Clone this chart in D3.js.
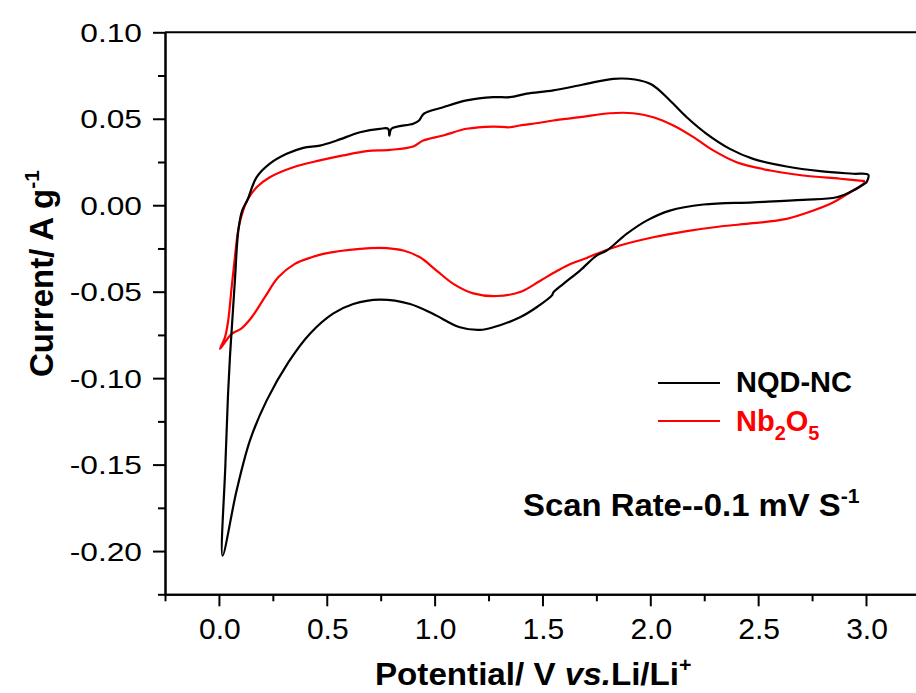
<!DOCTYPE html>
<html>
<head>
<meta charset="utf-8">
<script src="https://cdn.jsdelivr.net/npm/d3@7"></script>
<style>
  html, body { margin: 0; padding: 0; background: #fff; }
  svg { display: block; font-family: "Liberation Sans", Arial, sans-serif; }
</style>
</head>
<body>
<svg id="chart" width="916" height="693"></svg>
<script>
// ---------- data ----------
// NQD-NC loop: cathodic scan 3.0 V -> 0.02 V, then anodic scan back to 3.0 V
const nqdPotential = [
  3.003, 2.941, 2.864, 2.709, 2.477, 2.246, 2.091, 1.983, 1.890, 1.798, 1.751, 1.674, 1.597,
  1.550, 1.545, 1.473, 1.396, 1.272, 1.210, 1.117, 0.994, 0.886, 0.746, 0.623, 0.529, 0.422,
  0.321, 0.221, 0.144, 0.082, 0.017,
  0.030, 0.042, 0.051, 0.059, 0.074, 0.090, 0.108, 0.131, 0.175, 0.236, 0.314, 0.391, 0.468,
  0.546, 0.654, 0.746, 0.785, 0.790, 0.800, 0.901, 0.928, 0.950, 1.040, 1.148, 1.272, 1.349,
  1.427, 1.550, 1.689, 1.828, 1.929, 2.006, 2.091, 2.169, 2.261, 2.369, 2.477, 2.632, 2.787,
  2.941, 3.011, 3.003
];
const nqdCurrent = [
  0.0133, 0.0085, 0.0046, 0.0031, 0.0017, 0.0004, -0.0031, -0.0089, -0.0166, -0.0262, -0.0291, -0.0378, -0.0455,
  -0.0505, -0.0520, -0.0590, -0.0648, -0.0706, -0.0721, -0.0706, -0.0629, -0.0571, -0.0546, -0.0571, -0.0627, -0.0743,
  -0.0910, -0.1130, -0.1360, -0.1650, -0.2027,
  -0.1500, -0.1100, -0.0880, -0.0725, -0.0436, -0.0146, -0.0030, 0.0027, 0.0162, 0.0240, 0.0297, 0.0332, 0.0345,
  0.0374, 0.0422, 0.0442, 0.0442, 0.0403, 0.0442, 0.0471, 0.0490, 0.0529, 0.0567, 0.0606, 0.0625, 0.0625,
  0.0645, 0.0664, 0.0698, 0.0731, 0.0727, 0.0698, 0.0606, 0.0509, 0.0413, 0.0326, 0.0268, 0.0224, 0.0197,
  0.0182, 0.0176, 0.0133
];

// Nb2O5 loop: cathodic scan 3.0 V -> 0.005 V, then anodic scan back to 3.0 V
const nbPotential = [
  2.995, 2.988, 2.926, 2.849, 2.756, 2.632, 2.477, 2.323, 2.169, 2.014, 1.859, 1.751, 1.705,
  1.620, 1.550, 1.488, 1.396, 1.288, 1.179, 1.087, 1.009, 0.932, 0.855, 0.778, 0.654, 0.484, 0.430,
  0.352, 0.275, 0.213, 0.152, 0.105, 0.059, 0.005,
  0.028, 0.043, 0.059, 0.074, 0.089, 0.105, 0.131, 0.175, 0.236, 0.345, 0.468, 0.576, 0.685,
  0.793, 0.901, 0.947, 1.040, 1.148, 1.272, 1.349, 1.396, 1.488, 1.550, 1.674, 1.813, 1.921,
  2.014, 2.107, 2.200, 2.292, 2.400, 2.556, 2.709, 2.880, 2.995
];
const nbCurrent = [
  0.0139, 0.0124, 0.0075, 0.0017, -0.0031, -0.0079, -0.0104, -0.0123, -0.0150, -0.0185, -0.0233, -0.0281, -0.0305,
  -0.0345, -0.0392, -0.0438, -0.0502, -0.0525, -0.0510, -0.0455, -0.0378, -0.0301, -0.0262, -0.0248, -0.0252, -0.0281, -0.0301,
  -0.0339, -0.0417, -0.0532, -0.0648, -0.0712, -0.0744, -0.0831,
  -0.0764, -0.0667, -0.0475, -0.0301, -0.0146, -0.0060, 0.0027, 0.0104, 0.0162, 0.0220, 0.0259, 0.0288, 0.0313,
  0.0320, 0.0340, 0.0374, 0.0403, 0.0442, 0.0455, 0.0451, 0.0461, 0.0477, 0.0490, 0.0509, 0.0532, 0.0532,
  0.0509, 0.0461, 0.0394, 0.0317, 0.0249, 0.0201, 0.0172, 0.0153, 0.0139
];

const seriesNames = ["NQD-NC", "Nb2O5"];
const seriesColors = ["#000000", "#ff0000"];

const xDomain = [-0.25, 3.3];
const yDomain = [-0.225, 0.10];
const xMajorTicks = [0.0, 0.5, 1.0, 1.5, 2.0, 2.5, 3.0];
const xMinorTicks = [-0.25, 0.25, 0.75, 1.25, 1.75, 2.25, 2.75, 3.25];
const xTickLabels = ["0.0", "0.5", "1.0", "1.5", "2.0", "2.5", "3.0"];
const yMajorTicks = [0.10, 0.05, 0.00, -0.05, -0.10, -0.15, -0.20];
const yMinorTicks = [0.075, 0.025, -0.025, -0.075, -0.125, -0.175, -0.225];
const yTickLabels = ["0.10", "0.05", "0.00", "-0.05", "-0.10", "-0.15", "-0.20"];

// ---------- layout ----------
const L = 165, R = 930.7, T = 32.3, B = 594.3;
const svg = d3.select("#chart");

const x = d3.scaleLinear().domain(xDomain).range([L, R]);
const y = d3.scaleLinear().domain(yDomain).range([B, T]);

// frame (top border)
svg.append("line").attr("x1", L).attr("x2", R).attr("y1", T).attr("y2", T)
  .attr("stroke", "#000").attr("stroke-width", 2);

// axes
const axisStyle = g => {
  g.select(".domain").attr("stroke-width", 2);
  g.selectAll(".tick line").attr("stroke-width", 2);
  g.selectAll("text").remove();
};
svg.append("g").attr("transform", `translate(0,${B})`)
  .call(d3.axisBottom(x).tickValues(xMinorTicks).tickSize(7).tickSizeOuter(0)).call(axisStyle);
svg.append("g").attr("transform", `translate(0,${B})`)
  .call(d3.axisBottom(x).tickValues(xMajorTicks).tickSize(12).tickSizeOuter(0)).call(axisStyle);
svg.append("g").attr("transform", `translate(${L},0)`)
  .call(d3.axisLeft(y).tickValues(yMinorTicks).tickSize(7).tickSizeOuter(0)).call(axisStyle);
svg.append("g").attr("transform", `translate(${L},0)`)
  .call(d3.axisLeft(y).tickValues(yMajorTicks).tickSize(12).tickSizeOuter(0)).call(axisStyle);

// tick labels
svg.append("g").selectAll("text").data(xMajorTicks).join("text")
  .attr("x", d => x(d) + 1).attr("y", 639)
  .attr("text-anchor", "middle").attr("font-size", 30).attr("fill", "#000")
  .text((d, i) => xTickLabels[i]);

svg.append("g").selectAll("g").data(yMajorTicks).join("g")
  .attr("transform", d => `translate(142,${y(d) + 9.5}) scale(1.22,1)`)
  .append("text").attr("text-anchor", "end").attr("font-size", 26).attr("fill", "#000")
  .text((d, i) => yTickLabels[i]);

// axis titles
const xt = svg.append("text").attr("transform", "translate(375,685) scale(1.07,1)")
  .attr("font-size", 31).attr("font-weight", "bold").attr("fill", "#000");
xt.append("tspan").text("Potential/ V ");
xt.append("tspan").attr("font-style", "italic").text("vs.");
xt.append("tspan").text("Li/Li");
xt.append("tspan").attr("font-size", 20).attr("dy", -13).text("+");

const yt = svg.append("text")
  .attr("transform", "translate(53,377) rotate(-90)")
  .attr("font-size", 33).attr("font-weight", "bold").attr("fill", "#000");
yt.append("tspan").text("Current/ A g");
yt.append("tspan").attr("font-size", 21).attr("dy", -14).text("-1");

// curves
const line = d3.line()
  .x(d => x(d[0])).y(d => y(d[1]))
  .curve(d3.curveCatmullRom.alpha(0.5));

const nqdData = nqdPotential.map((v, i) => [v, nqdCurrent[i]]);
const nbData = nbPotential.map((v, i) => [v, nbCurrent[i]]);

svg.append("path").datum(nbData).attr("d", line)
  .attr("fill", "none").attr("stroke", seriesColors[1]).attr("stroke-width", 2.2)
  .attr("stroke-linejoin", "round");
svg.append("path").datum(nqdData).attr("d", line)
  .attr("fill", "none").attr("stroke", seriesColors[0]).attr("stroke-width", 2.2)
  .attr("stroke-linejoin", "round");

// legend
const legendY = [383, 421];
svg.append("g").selectAll("line").data(seriesColors).join("line")
  .attr("x1", 658).attr("x2", 720)
  .attr("y1", (d, i) => legendY[i]).attr("y2", (d, i) => legendY[i])
  .attr("stroke", d => d).attr("stroke-width", 2.2);

svg.append("text").attr("x", 736).attr("y", 392)
  .attr("font-size", 29).attr("font-weight", "bold").attr("fill", seriesColors[0])
  .text(seriesNames[0]);

const nb = svg.append("text").attr("x", 736).attr("y", 431)
  .attr("font-size", 29).attr("font-weight", "bold").attr("fill", seriesColors[1]);
nb.append("tspan").text("Nb");
nb.append("tspan").attr("font-size", 20).attr("dy", 9).text("2");
nb.append("tspan").attr("dy", -9).text("O");
nb.append("tspan").attr("font-size", 20).attr("dy", 9).text("5");

// annotation
const sr = svg.append("text").attr("transform", "translate(523,516) scale(1.06,1)")
  .attr("font-size", 31).attr("font-weight", "bold").attr("fill", "#000");
sr.append("tspan").text("Scan Rate--0.1 mV S");
sr.append("tspan").attr("font-size", 20).attr("dy", -13).text("-1");
</script>
</body>
</html>
